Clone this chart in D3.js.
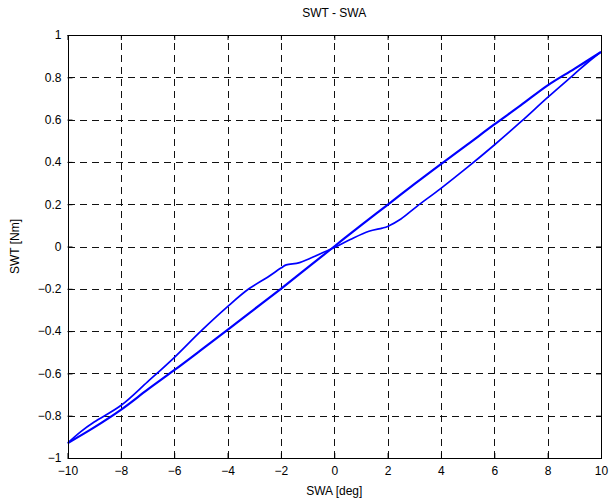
<!DOCTYPE html>
<html>
<head>
<meta charset="utf-8">
<script src="https://cdn.jsdelivr.net/npm/d3@7"></script>
<style>
  html, body { margin: 0; padding: 0; background: #fff; }
  svg { display: block; font-family: "Liberation Sans", Arial, sans-serif; }
</style>
</head>
<body>
<svg id="chart" width="609" height="504"></svg>
<script>
// ---- data ----
const xTicks = [-10, -8, -6, -4, -2, 0, 2, 4, 6, 8, 10];
const yTicks = [-1, -0.8, -0.6, -0.4, -0.2, 0, 0.2, 0.4, 0.6, 0.8, 1];

// straight (returning) branch
const swaStraight = [10, 9, 8, 7, 6, 5, 4, 3, 2, 1, 0, -1, -2, -3, -4, -5, -6, -7, -8, -9, -10];
const swtStraight = [0.92, 0.84, 0.762, 0.668, 0.577, 0.483, 0.39, 0.295, 0.197, 0.10, 0.0, -0.10, -0.2, -0.297, -0.394, -0.49, -0.585, -0.677, -0.772, -0.855, -0.93];

// kinked branch
const swaKink = [-10, -9.5, -9, -8, -7, -6, -5, -4, -3.2, -2.5, -2, -1.8, -1.3, -0.6, 0, 0.6, 1.3, 1.8, 2.0, 2.5, 3.1, 4, 5, 6, 7, 8, 9, 9.5, 10];
const swtKink = [-0.93, -0.875, -0.83, -0.752, -0.64, -0.525, -0.40, -0.284, -0.2, -0.145, -0.102, -0.087, -0.076, -0.039, -0.005, 0.033, 0.072, 0.087, 0.095, 0.13, 0.19, 0.275, 0.375, 0.48, 0.59, 0.705, 0.815, 0.87, 0.92];

// ---- layout ----
const L = 67.5, R = 601, T = 35, B = 458;
const FS = 12;
const svg = d3.select("#chart");
const x = d3.scaleLinear().domain([-10, 10]).range([L, R]);
const y = d3.scaleLinear().domain([-1, 1]).range([B, T]);

// grid
const grid = svg.append("g").attr("stroke", "#111").attr("stroke-width", 1)
  .attr("stroke-dasharray", "7,5").attr("shape-rendering", "crispEdges");
xTicks.slice(1, -1).forEach(v => {
  grid.append("line").attr("x1", Math.round(x(v)) + 0.5).attr("x2", Math.round(x(v)) + 0.5)
    .attr("y1", B).attr("y2", T);
});
yTicks.slice(1, -1).forEach(v => {
  grid.append("line").attr("y1", Math.round(y(v)) + 0.5).attr("y2", Math.round(y(v)) + 0.5)
    .attr("x1", L).attr("x2", R);
});

// data lines
svg.append("clipPath").attr("id", "clip").append("rect")
  .attr("x", L).attr("y", T).attr("width", R - L).attr("height", B - T);
const line = d3.line().x(d => x(d[0])).y(d => y(d[1])).curve(d3.curveCatmullRom);
const plot = svg.append("g").attr("clip-path", "url(#clip)");
plot.append("path")
  .datum(swaStraight.map((v, i) => [v, swtStraight[i]]))
  .attr("d", line).attr("fill", "none").attr("stroke", "#0000ff").attr("stroke-width", 2.2);
plot.append("path")
  .datum(swaKink.map((v, i) => [v, swtKink[i]]))
  .attr("d", line).attr("fill", "none").attr("stroke", "#0000ff").attr("stroke-width", 1.7);

// axes (MATLAB-like box with inward ticks)
const tickLen = 5;
const axes = svg.append("g").attr("shape-rendering", "crispEdges");
axes.append("rect").attr("x", Math.round(L) + 0.5).attr("y", T + 0.5)
  .attr("width", Math.round(R) - Math.round(L)).attr("height", B - T)
  .attr("fill", "none").attr("stroke", "#000").attr("stroke-width", 1);

const xAxisB = d3.axisBottom(x).tickValues(xTicks).tickSizeInner(-tickLen).tickSizeOuter(0).tickPadding(8);
const xAxisT = d3.axisTop(x).tickValues(xTicks).tickSizeInner(-tickLen).tickSizeOuter(0).tickFormat("");
const yAxisL = d3.axisLeft(y).tickValues(yTicks).tickSizeInner(-tickLen).tickSizeOuter(0).tickPadding(6)
  .tickFormat(d => d3.format("")(Math.round(d * 10) / 10));
const yAxisR = d3.axisRight(y).tickValues(yTicks).tickSizeInner(-tickLen).tickSizeOuter(0).tickFormat("");

function styleAxis(g) {
  g.select(".domain").remove();
  g.selectAll("line").attr("stroke", "#000");
  g.selectAll("text").attr("fill", "#000").attr("font-size", FS)
    .attr("font-family", "Liberation Sans, Arial, sans-serif");
}
svg.append("g").attr("transform", `translate(0,${B})`).call(xAxisB).call(styleAxis);
svg.append("g").attr("transform", `translate(0,${T})`).call(xAxisT).call(styleAxis);
svg.append("g").attr("transform", `translate(${L},0)`).call(yAxisL).call(styleAxis);
svg.append("g").attr("transform", `translate(${R},0)`).call(yAxisR).call(styleAxis);

// labels
svg.append("text").attr("x", (L + R) / 2).attr("y", 17).attr("text-anchor", "middle")
  .attr("font-size", FS).text("SWT - SWA");
svg.append("text").attr("x", (L + R) / 2).attr("y", 495).attr("text-anchor", "middle")
  .attr("font-size", FS).text("SWA [deg]");
svg.append("text").attr("transform", `translate(19,${(T + B) / 2}) rotate(-90)`)
  .attr("text-anchor", "middle").attr("font-size", FS).text("SWT [Nm]");
</script>
</body>
</html>
